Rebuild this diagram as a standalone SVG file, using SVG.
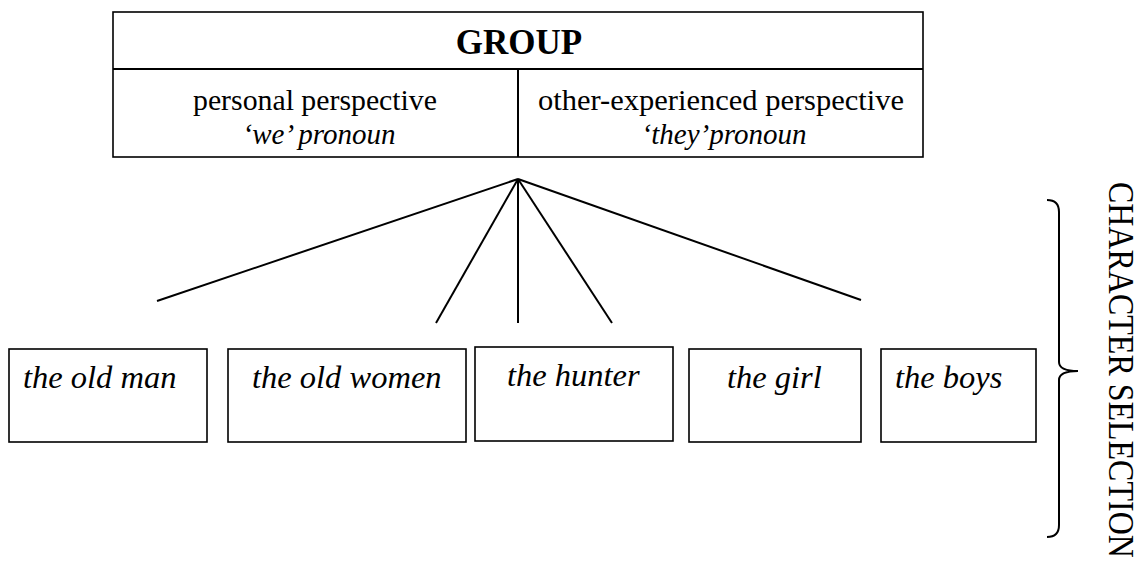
<svg xmlns="http://www.w3.org/2000/svg" width="1140" height="565" viewBox="0 0 1140 565">
<style>
.box{fill:#fff;stroke:#000;stroke-width:1.6}
.ln{stroke:#000;stroke-width:2;fill:none}
.t{font-family:"Liberation Serif","Times New Roman",serif;fill:#000}
.it{font-style:italic}
.b{font-weight:bold}
.top{font-size:29px}
.cell{font-size:32.5px}
</style>
<rect width="1140" height="565" fill="#fff"/>
<g id="group-table">
<rect class="box" x="113" y="12" width="810" height="145"/>
<line class="ln" x1="113" y1="69" x2="923" y2="69" stroke-width="1.6"/>
<line class="ln" x1="518" y1="69" x2="518" y2="157" stroke-width="1.6"/>
<text class="t b" x="519" y="54" font-size="35" text-anchor="middle">GROUP</text>
<text class="t top" x="315" y="110" text-anchor="middle" textLength="244" lengthAdjust="spacingAndGlyphs">personal perspective</text>
<text class="t top it" x="319" y="144" text-anchor="middle">‘we’ pronoun</text>
<text class="t top" x="721" y="110" text-anchor="middle" textLength="366" lengthAdjust="spacingAndGlyphs">other-experienced perspective</text>
<text class="t top it" x="724" y="144" text-anchor="middle">‘they’pronoun</text>
</g>
<g id="connectors">
<line class="ln" x1="518" y1="179" x2="157" y2="301"/>
<line class="ln" x1="518" y1="179" x2="436" y2="323"/>
<line class="ln" x1="518" y1="179" x2="518" y2="323" stroke-width="1.6"/>
<line class="ln" x1="518" y1="179" x2="612" y2="323"/>
<line class="ln" x1="518" y1="179" x2="861" y2="300"/>
</g>
<g id="node-old-man">
<rect class="box" x="9" y="349" width="198" height="93"/>
<text class="t it cell" x="23" y="388">the old man</text>
</g>
<g id="node-old-women">
<rect class="box" x="228" y="349" width="238" height="93"/>
<text class="t it cell" x="252" y="388">the old women</text>
</g>
<g id="node-hunter">
<rect class="box" x="475" y="347" width="198" height="94"/>
<text class="t it cell" x="507" y="386">the hunter</text>
</g>
<g id="node-girl">
<rect class="box" x="689" y="349" width="172" height="93"/>
<text class="t it cell" x="727" y="388">the girl</text>
</g>
<g id="node-boys">
<rect class="box" x="881" y="349" width="155" height="93"/>
<text class="t it cell" x="895" y="388">the boys</text>
</g>
<g id="character-selection">
<path class="ln" stroke-width="1.8" d="M1047,200 Q1059,200 1059,212 L1059,362 Q1059,371 1078,371 Q1059,371 1059,380 L1059,525 Q1059,537 1047,537"/>
<text class="t" transform="translate(1109,182) rotate(90) scale(1,1.15)" font-size="32">CHARACTER SELECTION</text>
</g>
</svg>
